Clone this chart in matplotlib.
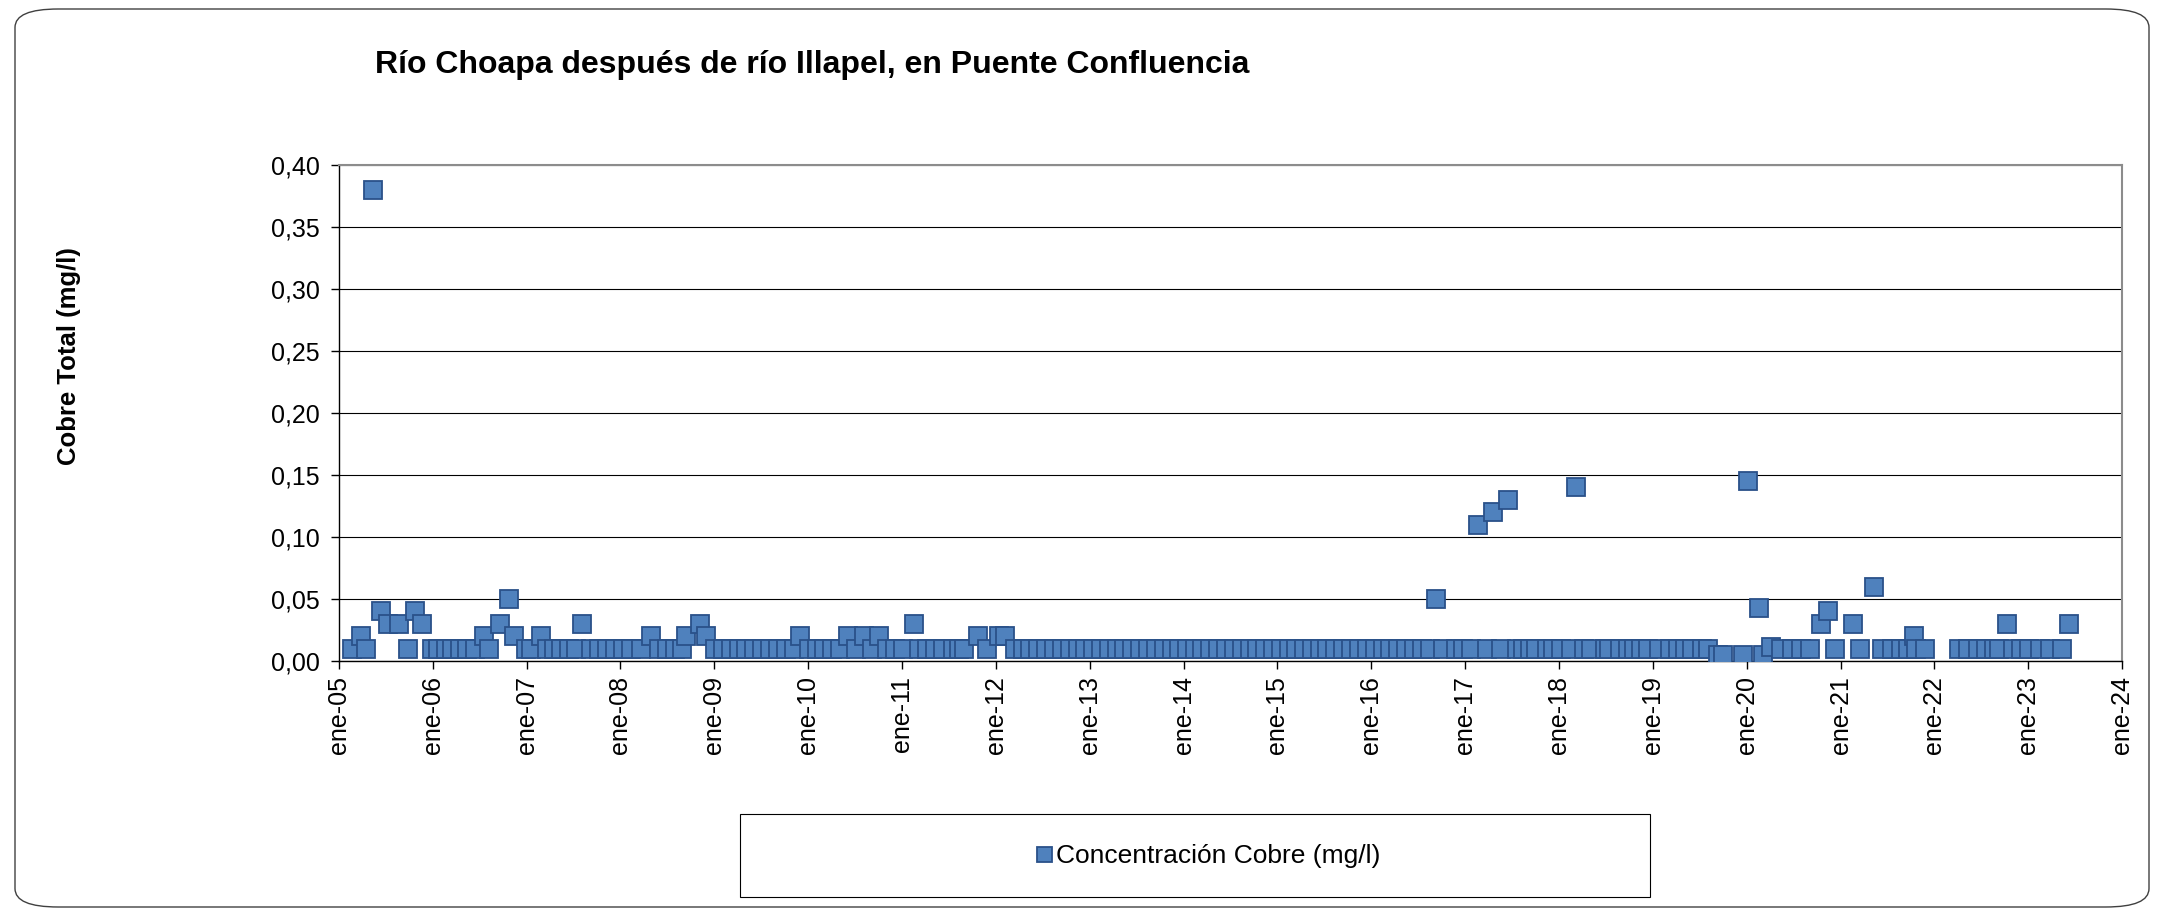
import matplotlib
matplotlib.use("Agg")
import matplotlib.pyplot as plt
import matplotlib.dates as mdates
import matplotlib.ticker as mticker
from matplotlib.patches import FancyBboxPatch, Rectangle
import pandas as pd

plt.rcParams["font.family"] = ["Liberation Sans", "DejaVu Sans"]

TITLE = "Río Choapa después de río Illapel, en Puente Confluencia"
Y_LABEL = "Cobre Total (mg/l)"
SERIES = "Concentración Cobre (mg/l)"

# sampling dates, one line per year
fechas = [
    "2005-02-20", "2005-03-28", "2005-04-18", "2005-05-12", "2005-06-14", "2005-07-12", "2005-08-22", "2005-09-27", "2005-10-22", "2005-11-20", "2005-12-28",
    "2006-01-20", "2006-02-20", "2006-03-18", "2006-04-16", "2006-05-15", "2006-06-14", "2006-07-20", "2006-08-08", "2006-09-20", "2006-10-23", "2006-11-14", "2006-12-28",
    "2007-01-20", "2007-02-25", "2007-03-20", "2007-04-18", "2007-05-16", "2007-06-15", "2007-07-12", "2007-08-05", "2007-09-10", "2007-10-10", "2007-11-10", "2007-12-10",
    "2008-01-10", "2008-02-10", "2008-03-20", "2008-04-30", "2008-06-01", "2008-07-01", "2008-08-01", "2008-08-28", "2008-09-12", "2008-11-06", "2008-12-01",
    "2009-01-05", "2009-02-05", "2009-03-05", "2009-04-05", "2009-05-05", "2009-06-05", "2009-07-05", "2009-08-05", "2009-09-05", "2009-10-05", "2009-11-05", "2009-12-02",
    "2010-01-05", "2010-02-05", "2010-03-05", "2010-04-05", "2010-05-05", "2010-06-03", "2010-07-05", "2010-08-08", "2010-09-05", "2010-10-05", "2010-11-05", "2010-12-05",
    "2011-01-05", "2011-02-18", "2011-03-10", "2011-04-10", "2011-05-10", "2011-06-10", "2011-07-20", "2011-08-10", "2011-09-01", "2011-10-22", "2011-11-28",
    "2012-01-15", "2012-02-05", "2012-03-15", "2012-04-15", "2012-05-15", "2012-06-15", "2012-07-15", "2012-08-15", "2012-09-15", "2012-10-15", "2012-11-15", "2012-12-15",
    "2013-01-15", "2013-02-15", "2013-03-15", "2013-04-15", "2013-05-15", "2013-06-15", "2013-07-15", "2013-08-15", "2013-09-15", "2013-10-15", "2013-11-15", "2013-12-15",
    "2014-01-15", "2014-02-15", "2014-03-15", "2014-04-15", "2014-05-15", "2014-06-15", "2014-07-15", "2014-08-15", "2014-09-15", "2014-10-15", "2014-11-15", "2014-12-15",
    "2015-01-15", "2015-02-15", "2015-03-15", "2015-04-15", "2015-05-15", "2015-06-15", "2015-07-15", "2015-08-15", "2015-09-15", "2015-10-15", "2015-11-15", "2015-12-15",
    "2016-01-15", "2016-02-15", "2016-03-15", "2016-04-15", "2016-05-15", "2016-06-15", "2016-07-15", "2016-08-15", "2016-09-10", "2016-10-08", "2016-11-28", "2016-12-25",
    "2017-01-25", "2017-02-20", "2017-03-25", "2017-04-20", "2017-05-22", "2017-06-18", "2017-07-20", "2017-08-15", "2017-09-10", "2017-10-05", "2017-11-15", "2017-12-10",
    "2018-01-10", "2018-02-15", "2018-03-08", "2018-04-08", "2018-05-05", "2018-06-28", "2018-07-15", "2018-08-28", "2018-09-25", "2018-10-20", "2018-11-18", "2018-12-15",
    "2019-01-25", "2019-03-08", "2019-04-08", "2019-05-05", "2019-06-01", "2019-07-10", "2019-08-05", "2019-09-10", "2019-10-02", "2019-12-18",
    "2020-01-08", "2020-02-17", "2020-03-03", "2020-04-05", "2020-05-15", "2020-06-25", "2020-07-31", "2020-09-05", "2020-10-15", "2020-11-14", "2020-12-10",
    "2021-02-17", "2021-03-18", "2021-05-12", "2021-06-10", "2021-07-20", "2021-08-25", "2021-09-20", "2021-10-12", "2021-10-20", "2021-11-25",
    "2022-04-08", "2022-05-12", "2022-06-18", "2022-07-20", "2022-08-20", "2022-09-10", "2022-10-12", "2022-11-03", "2022-12-05",
    "2023-01-03", "2023-02-17", "2023-03-28", "2023-05-12", "2023-06-10",
]

# copper concentration (mg/l), same order as fechas
cobre = [
    0.01, 0.02, 0.01, 0.38, 0.04, 0.03, 0.03, 0.01, 0.04, 0.03, 0.01,
    0.01, 0.01, 0.01, 0.01, 0.01, 0.01, 0.02, 0.01, 0.03, 0.05, 0.02, 0.01,
    0.01, 0.02, 0.01, 0.01, 0.01, 0.01, 0.01, 0.03, 0.01, 0.01, 0.01, 0.01,
    0.01, 0.01, 0.01, 0.02, 0.01, 0.01, 0.01, 0.01, 0.02, 0.03, 0.02,
    0.01, 0.01, 0.01, 0.01, 0.01, 0.01, 0.01, 0.01, 0.01, 0.01, 0.01, 0.02,
    0.01, 0.01, 0.01, 0.01, 0.01, 0.02, 0.01, 0.02, 0.01, 0.02, 0.01, 0.01,
    0.01, 0.03, 0.01, 0.01, 0.01, 0.01, 0.01, 0.01, 0.01, 0.02, 0.01,
    0.02, 0.02, 0.01, 0.01, 0.01, 0.01, 0.01, 0.01, 0.01, 0.01, 0.01, 0.01,
    0.01, 0.01, 0.01, 0.01, 0.01, 0.01, 0.01, 0.01, 0.01, 0.01, 0.01, 0.01,
    0.01, 0.01, 0.01, 0.01, 0.01, 0.01, 0.01, 0.01, 0.01, 0.01, 0.01, 0.01,
    0.01, 0.01, 0.01, 0.01, 0.01, 0.01, 0.01, 0.01, 0.01, 0.01, 0.01, 0.01,
    0.01, 0.01, 0.01, 0.01, 0.01, 0.01, 0.01, 0.01, 0.05, 0.01, 0.01, 0.01,
    0.01, 0.11, 0.01, 0.12, 0.01, 0.13, 0.01, 0.01, 0.01, 0.01, 0.01, 0.01,
    0.01, 0.01, 0.14, 0.01, 0.01, 0.01, 0.01, 0.01, 0.01, 0.01, 0.01, 0.01,
    0.01, 0.01, 0.01, 0.01, 0.01, 0.01, 0.01, 0.005, 0.005, 0.005,
    0.145, 0.043, 0.005, 0.011, 0.01, 0.01, 0.01, 0.01, 0.03, 0.04, 0.01,
    0.03, 0.01, 0.06, 0.01, 0.01, 0.01, 0.01, 0.02, 0.01, 0.01,
    0.01, 0.01, 0.01, 0.01, 0.01, 0.01, 0.03, 0.01, 0.01,
    0.01, 0.01, 0.01, 0.01, 0.03,
]

y_ticks = [0.0, 0.05, 0.10, 0.15, 0.20, 0.25, 0.30, 0.35, 0.40]

W, H = 2161, 919
fig = plt.figure(figsize=(W / 100, H / 100), dpi=100)

# outer chart frame (no fill so the axes stay visible)
fig.patches.append(FancyBboxPatch(
    (15 / W, 12 / H), 2134 / W, 898 / H,
    boxstyle="round,pad=0,rounding_size=0.02",
    transform=fig.transFigure, facecolor="none", edgecolor="#404040", linewidth=1.0,
))

ax = fig.add_axes([339 / W, 1 - 661 / H, (2122 - 339) / W, (661 - 165) / H])

x = pd.to_datetime(fechas)
ax.plot(x, cobre, linestyle="none", marker="s", markersize=13.5,
        markerfacecolor="#4F81BD", markeredgecolor="#2A5189", markeredgewidth=1.3,
        label=SERIES, zorder=3)

ax.set_xlim(pd.Timestamp("2005-01-01"), pd.Timestamp("2024-01-01"))
ax.set_ylim(0, 0.40)
ax.set_yticks(y_ticks)
ax.yaxis.set_major_formatter(mticker.FuncFormatter(lambda v, p: f"{v:.2f}".replace(".", ",")))
ax.xaxis.set_major_locator(mdates.YearLocator())
ax.xaxis.set_major_formatter(mticker.FuncFormatter(
    lambda v, p: f"ene-{mdates.num2date(v).year % 100:02d}"))
for lab in ax.get_xticklabels():
    lab.set_rotation(90)

ax.tick_params(axis="both", direction="out", length=6, width=1, labelsize=18, colors="black")
ax.tick_params(axis="x", pad=5)
ax.tick_params(axis="y", pad=8)
ax.grid(axis="y", color="black", linewidth=0.8)
ax.set_axisbelow(True)

for side in ("top", "right"):
    ax.spines[side].set_color("#8c8c8c")
    ax.spines[side].set_linewidth(1.5)
for side in ("left", "bottom"):
    ax.spines[side].set_color("black")
    ax.spines[side].set_linewidth(1.0)

fig.text(375 / W, 1 - 65 / H, TITLE, fontsize=23, fontweight="bold", ha="left", va="center")
fig.text(69 / W, 1 - 356 / H, Y_LABEL, fontsize=18.5, fontweight="bold", rotation=90,
         ha="center", va="center")

# legend box
fig.patches.append(Rectangle((740 / W, 1 - 897 / H), 910 / W, 83 / H,
                             transform=fig.transFigure, facecolor="none",
                             edgecolor="black", linewidth=0.8))
leg = fig.legend(loc="center", bbox_to_anchor=(1208 / W, 1 - 856 / H), frameon=False,
                 fontsize=19, markerscale=0.8, handlelength=0.6, handletextpad=0.15)

fig.savefig("out.png", dpi=100)
